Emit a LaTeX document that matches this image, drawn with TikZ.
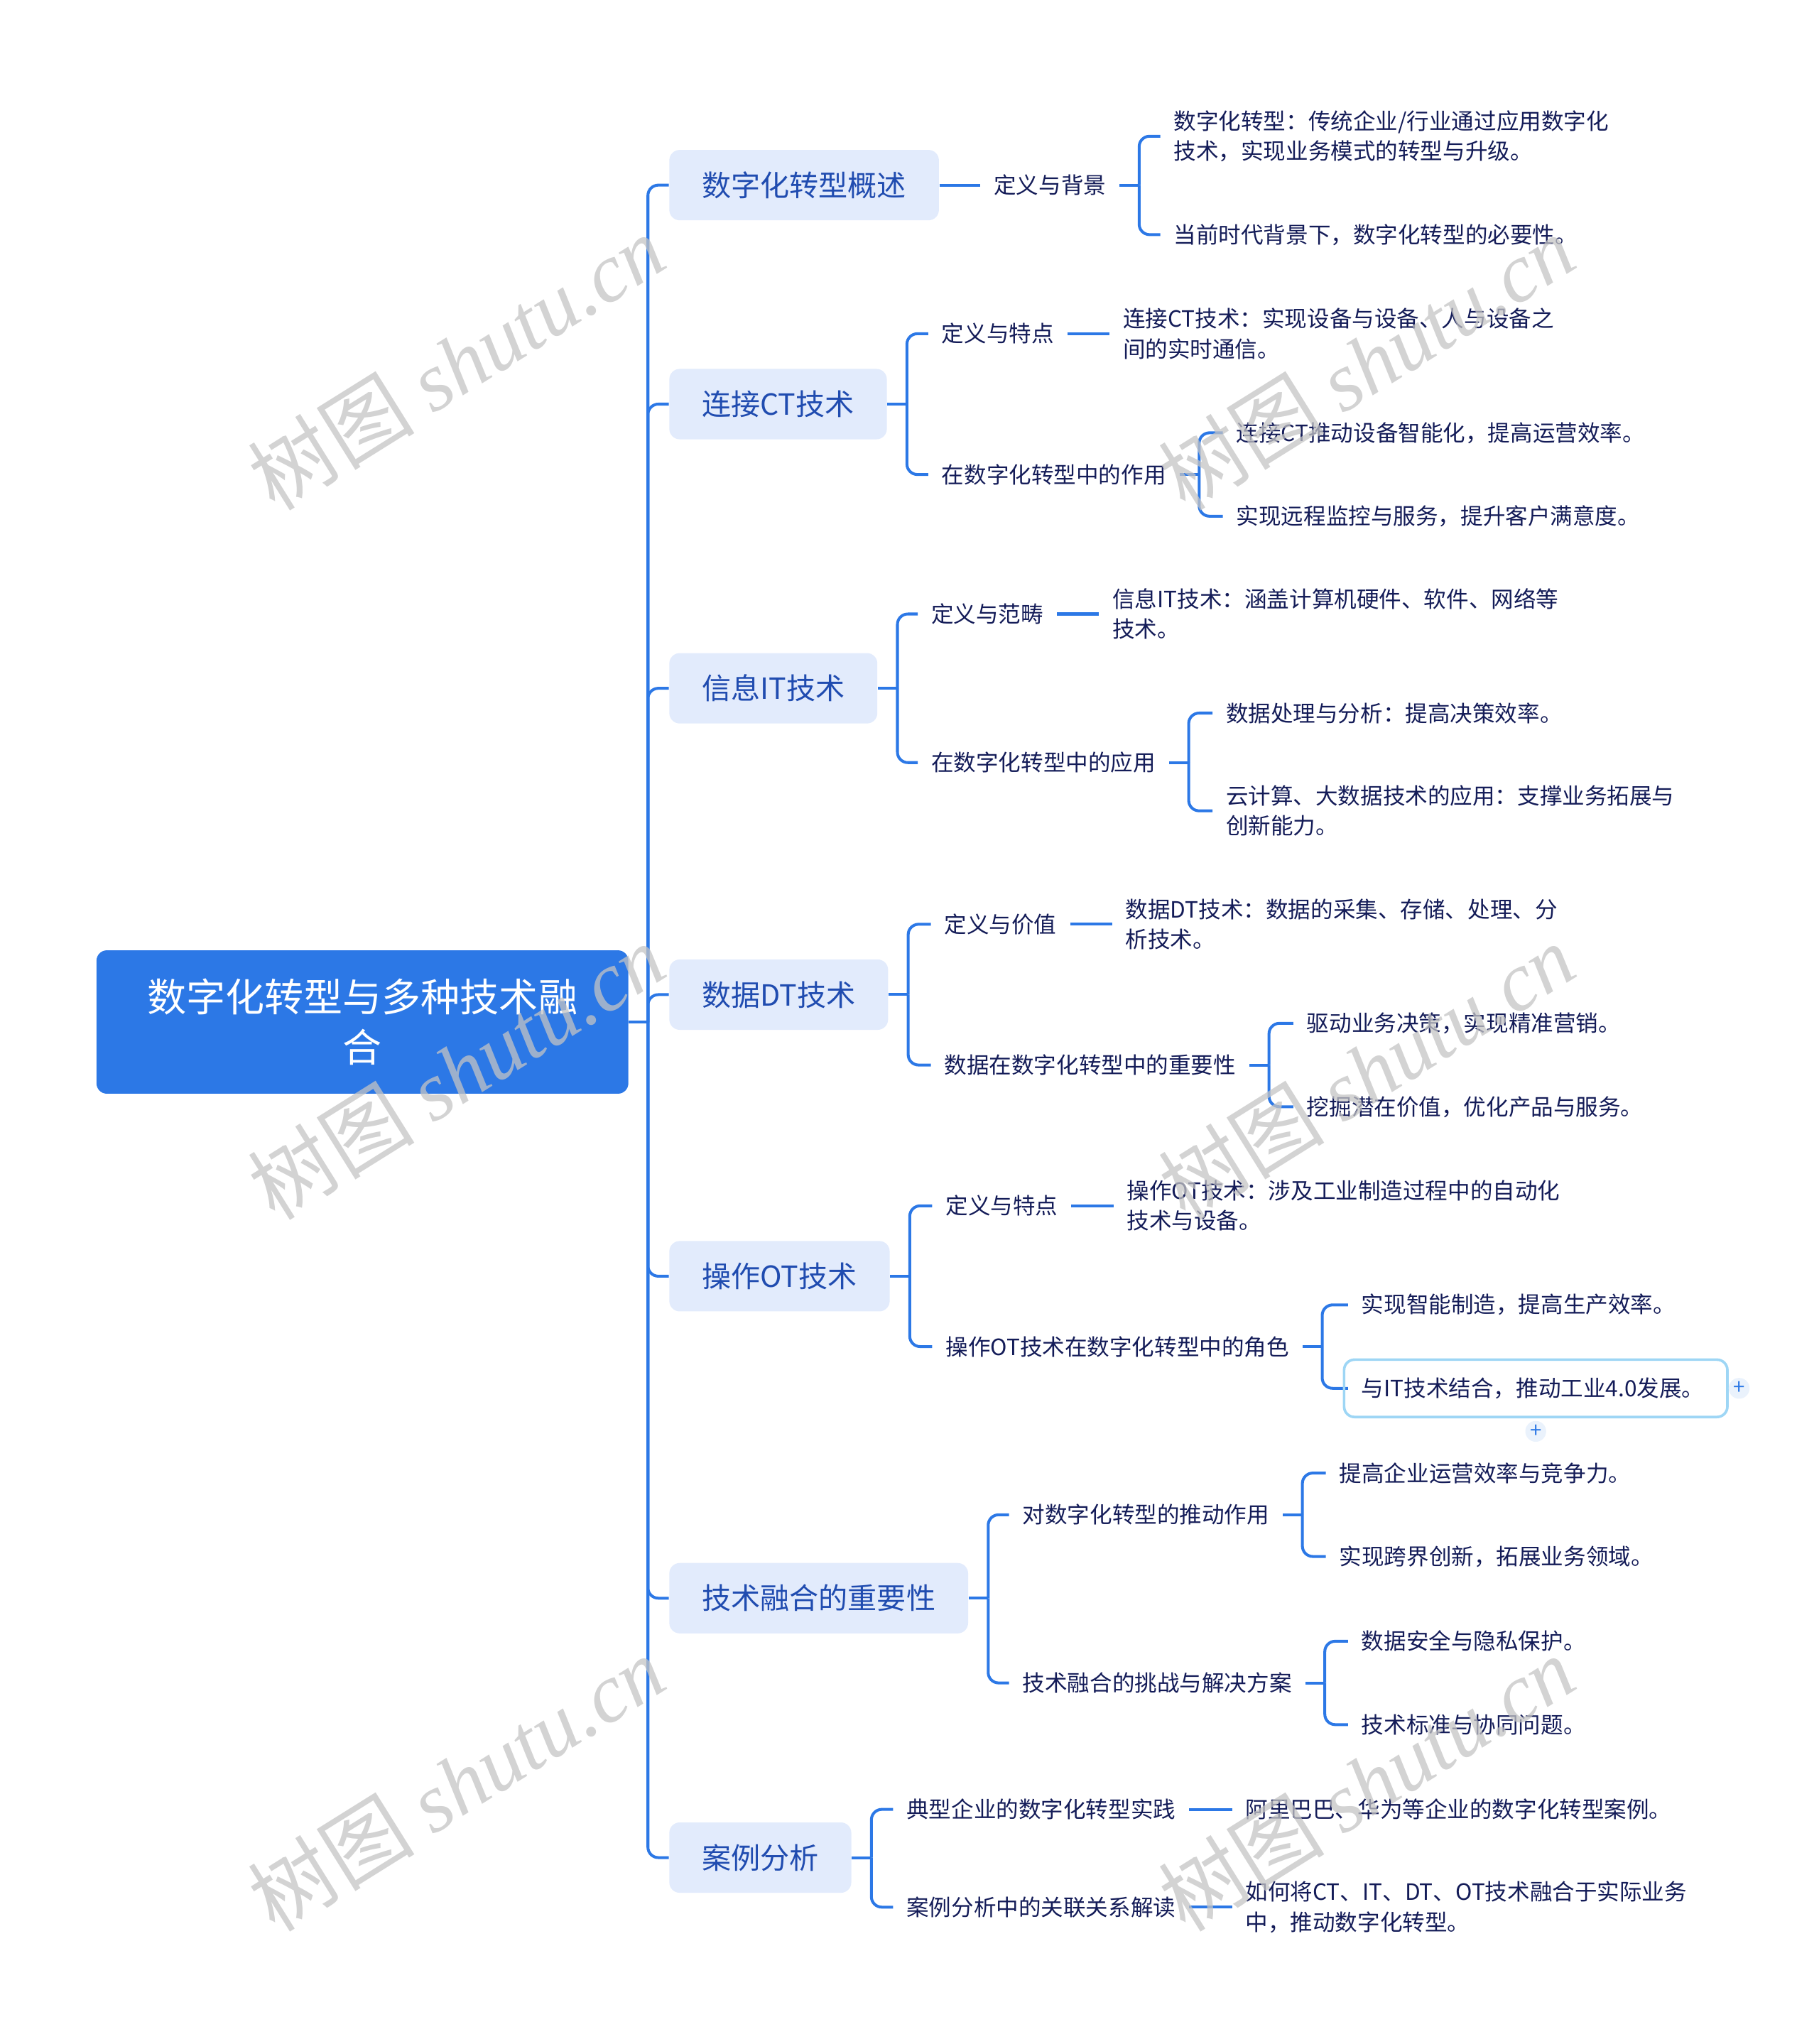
\documentclass[tikz,border=0pt]{standalone}
\usepackage{fontspec}
\setmainfont{Noto Sans CJK SC}
\newfontfamily\wmfont{Liberation Serif}
\definecolor{LinkBlue}{RGB}{44,120,230}
\definecolor{TopicFill}{RGB}{226,235,252}
\definecolor{TopicText}{RGB}{32,76,176}
\definecolor{LeafText}{RGB}{20,28,88}
\definecolor{SelBlue}{RGB}{158,214,245}
\definecolor{PlusFill}{RGB}{234,242,252}
\definecolor{MarkGray}{RGB}{196,196,196}
\tikzset{
	link/.style={draw=LinkBlue, line width=1.1pt, rounded corners=4pt},
	rootbox/.style={fill=LinkBlue, rounded corners=4pt, text=white, align=center, font=\fontsize{15pt}{19.5pt}\selectfont, minimum width=204pt, minimum height=55pt},
	topic/.style={anchor=west, fill=TopicFill, rounded corners=4pt, text=TopicText, font=\fontsize{11.2pt}{14pt}\selectfont, inner xsep=12.5pt, minimum height=27pt},
	sub/.style={anchor=west, text=LeafText, font=\fontsize{8.6pt}{11.5pt}\selectfont, inner xsep=5pt, inner ysep=1pt, align=left},
	selbox/.style={draw=SelBlue, line width=1pt, rounded corners=4pt},
	plus/.style={circle, fill=PlusFill, text=LinkBlue, inner sep=0pt, minimum size=8pt, font=\fontsize{8pt}{8pt}\selectfont},
	watermark/.style={rotate=32, text=MarkGray, opacity=0.75, font=\fontsize{32pt}{32pt}\selectfont}
}
\begin{document}
\begin{tikzpicture}[x=0.5pt, y=-0.5pt]
		\useasboundingbox (0,0) rectangle (1395,1568);
		% root and topics
		\node[rootbox] (R) at (278,784) {数字化转型与多种技术融\\合};
		\coordinate (J0) at (497,784);
		\node[topic] (T1) at (513,142) {数字化转型概述};
		\node[topic] (T2) at (513,310) {连接CT技术};
		\node[topic] (T3) at (513,528) {信息IT技术};
		\node[topic] (T4) at (513,763) {数据DT技术};
		\node[topic] (T5) at (513,979) {操作OT技术};
		\node[topic] (T6) at (513,1226) {技术融合的重要性};
		\node[topic] (T7) at (513,1425) {案例分析};
		\draw[link] (R.east) -- (J0);
		\foreach \t in {T1,T2,T3,T4,T5,T6,T7}
			\draw[link] (J0) |- (\t.west);
		% 1
		\node[sub] (S1) at (752,142) {定义与背景};
		\node[sub] (L1a) at (890,104.5) {数字化转型：传统企业/行业通过应用数字化\\技术，实现业务模式的转型与升级。};
		\node[sub] (L1b) at (890,180) {当前时代背景下，数字化转型的必要性。};
		\draw[link] (T1.east) -- (S1.west);
		\draw[link] (S1.east) -- ++(15,0) coordinate (B1);
		\foreach \c in {L1a,L1b}
			\draw[link] (B1) |- (\c.west);
		% 2
		\node[sub] (S2a) at (712,256) {定义与特点};
		\node[sub] (L2a) at (851,256) {连接CT技术：实现设备与设备、人与设备之\\间的实时通信。};
		\node[sub] (S2b) at (712,364) {在数字化转型中的作用};
		\node[sub] (L2b1) at (938,332) {连接CT推动设备智能化，提高运营效率。};
		\node[sub] (L2b2) at (938,396) {实现远程监控与服务，提升客户满意度。};
		\draw[link] (T2.east) -- ++(15,0) coordinate (B2);
		\foreach \c in {S2a,S2b}
			\draw[link] (B2) |- (\c.west);
		\draw[link] (S2a.east) -- (L2a.west);
		\draw[link] (S2b.east) -- ++(15,0) coordinate (B2b);
		\foreach \c in {L2b1,L2b2}
			\draw[link] (B2b) |- (\c.west);
		% 3
		\node[sub] (S3a) at (704,471) {定义与范畴};
		\node[sub] (L3a) at (843,471) {信息IT技术：涵盖计算机硬件、软件、网络等\\技术。};
		\node[sub] (S3b) at (704,585) {在数字化转型中的应用};
		\node[sub] (L3b1) at (930,547) {数据处理与分析：提高决策效率。};
		\node[sub] (L3b2) at (930,622) {云计算、大数据技术的应用：支撑业务拓展与\\创新能力。};
		\draw[link] (T3.east) -- ++(15,0) coordinate (B3);
		\foreach \c in {S3a,S3b}
			\draw[link] (B3) |- (\c.west);
		\draw[link] (S3a.east) -- (L3a.west);
		\draw[link] (S3b.east) -- ++(15,0) coordinate (B3b);
		\foreach \c in {L3b1,L3b2}
			\draw[link] (B3b) |- (\c.west);
		% 4
		\node[sub] (S4a) at (714,709) {定义与价值};
		\node[sub] (L4a) at (853,709) {数据DT技术：数据的采集、存储、处理、分\\析技术。};
		\node[sub] (S4b) at (714,817) {数据在数字化转型中的重要性};
		\node[sub] (L4b1) at (992,785) {驱动业务决策，实现精准营销。};
		\node[sub] (L4b2) at (992,849) {挖掘潜在价值，优化产品与服务。};
		\draw[link] (T4.east) -- ++(15,0) coordinate (B4);
		\foreach \c in {S4a,S4b}
			\draw[link] (B4) |- (\c.west);
		\draw[link] (S4a.east) -- (L4a.west);
		\draw[link] (S4b.east) -- ++(15,0) coordinate (B4b);
		\foreach \c in {L4b1,L4b2}
			\draw[link] (B4b) |- (\c.west);
		% 5
		\node[sub] (S5a) at (715,925) {定义与特点};
		\node[sub] (L5a) at (854,925) {操作OT技术：涉及工业制造过程中的自动化\\技术与设备。};
		\node[sub] (S5b) at (715,1033) {操作OT技术在数字化转型中的角色};
		\node[sub] (L5b1) at (1034,1001) {实现智能制造，提高生产效率。};
		\node[sub] (L5b2) at (1034,1065) {与IT技术结合，推动工业4.0发展。};
		\draw[link] (T5.east) -- ++(15,0) coordinate (B5);
		\foreach \c in {S5a,S5b}
			\draw[link] (B5) |- (\c.west);
		\draw[link] (S5a.east) -- (L5a.west);
		\draw[link] (S5b.east) -- ++(15,0) coordinate (B5b);
		\foreach \c in {L5b1,L5b2}
			\draw[link] (B5b) |- (\c.west);
		\draw[selbox] (1031,1043) rectangle (1325,1087);
		\node[plus] (P1) at (1334,1065) {+};
		\node[plus] (P2) at (1178,1098) {+};
		% 6
		\node[sub] (S6a) at (774,1162) {对数字化转型的推动作用};
		\node[sub] (L6a1) at (1017,1130) {提高企业运营效率与竞争力。};
		\node[sub] (L6a2) at (1017,1194) {实现跨界创新，拓展业务领域。};
		\node[sub] (S6b) at (774,1291) {技术融合的挑战与解决方案};
		\node[sub] (L6b1) at (1034,1259) {数据安全与隐私保护。};
		\node[sub] (L6b2) at (1034,1323) {技术标准与协同问题。};
		\draw[link] (T6.east) -- ++(15,0) coordinate (B6);
		\foreach \c in {S6a,S6b}
			\draw[link] (B6) |- (\c.west);
		\draw[link] (S6a.east) -- ++(15,0) coordinate (B6a);
		\foreach \c in {L6a1,L6a2}
			\draw[link] (B6a) |- (\c.west);
		\draw[link] (S6b.east) -- ++(15,0) coordinate (B6b);
		\foreach \c in {L6b1,L6b2}
			\draw[link] (B6b) |- (\c.west);
		% 7
		\node[sub] (S7a) at (685,1388) {典型企业的数字化转型实践};
		\node[sub] (L7a) at (945,1388) {阿里巴巴、华为等企业的数字化转型案例。};
		\node[sub] (S7b) at (685,1463) {案例分析中的关联关系解读};
		\node[sub] (L7b) at (945,1463) {如何将CT、IT、DT、OT技术融合于实际业务\\中，推动数字化转型。};
		\draw[link] (T7.east) -- ++(15,0) coordinate (B7);
		\foreach \c in {S7a,S7b}
			\draw[link] (B7) |- (\c.west);
		\draw[link] (S7a.east) -- (L7a.west);
		\draw[link] (S7b.east) -- (L7b.west);
		% watermark
		\foreach \wx in {350,1048}
			\foreach \wy in {278,822,1368}
				\node[watermark] at (\wx,\wy) {树图 {\wmfont\itshape shutu.cn}};
	\end{tikzpicture}
\end{document}
